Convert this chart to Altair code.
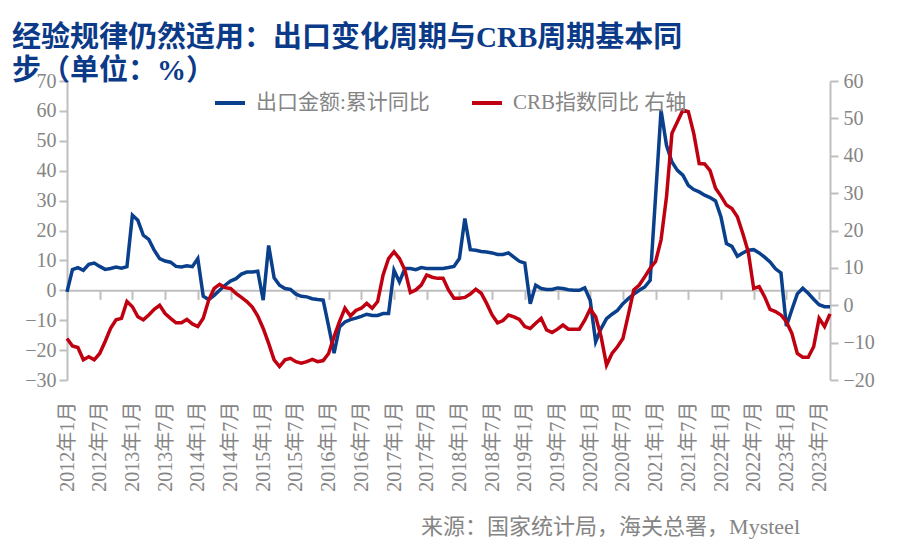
import altair as alt
import pandas as pd

# ---- data ----
months = [f"{2012 + i // 12}-{i % 12 + 1:02d}" for i in range(141)]  # 2012-01 .. 2023-09

export_yoy = [
    -0.5, 6.9, 7.6, 6.7, 8.7, 9.1, 8.0, 7.0, 7.3, 7.8, 7.4, 7.9,          # 2012
    25.1, 23.4, 18.4, 17.0, 13.4, 10.6, 9.8, 9.4, 8.0, 7.8, 8.2, 7.9,    # 2013
    10.6, -2.0, -3.1, -1.7, 0.0, 1.7, 3.1, 3.9, 5.4, 6.1, 6.1, 6.4,      # 2014
    -3.3, 15.0, 4.2, 1.7, 0.6, 0.3, -1.3, -2.0, -2.2, -2.8, -3.1, -3.3,  # 2015
    -12.0, -21.0, -12.3, -10.6, -9.8, -9.3, -8.7, -8.0, -8.4, -8.4, -7.8, -7.8,  # 2016
    6.7, 2.8, 7.3, 7.3, 6.9, 7.6, 7.3, 7.3, 7.3, 7.3, 7.6, 8.0,          # 2017
    10.6, 24.0, 13.6, 13.4, 13.0, 12.8, 12.5, 12.0, 12.0, 12.5, 11.1, 9.7,  # 2018
    9.1, -4.5, 1.7, 0.6, 0.3, 0.3, 0.8, 0.6, 0.2, 0.0, 0.0, 0.8,         # 2019
    -3.3, -17.2, -12.8, -9.5, -8.0, -6.7, -4.5, -2.8, -1.3, 0.0, 1.1, 3.3,  # 2020
    31.5, 60.2, 48.5, 42.9, 40.1, 38.5, 35.1, 33.7, 32.9, 31.8, 31.0, 29.9,  # 2021
    24.5, 15.6, 14.7, 11.4, 12.5, 13.4, 13.6, 12.5, 11.1, 9.5, 7.2, 5.8,  # 2022
    -12.0, -6.5, -1.2, 0.7, -1.0, -3.0, -4.8, -5.5, -5.5,                # 2023
]

crb_yoy = [
    -8.9, -10.9, -11.3, -14.6, -13.8, -14.6, -12.9, -9.7, -6.2, -3.9, -3.5, 1.0,   # 2012
    -0.4, -3.1, -3.9, -2.6, -1.1, 0.0, -2.2, -3.5, -4.7, -4.7, -3.8, -5.0,        # 2013
    -5.7, -3.5, 1.4, 4.5, 5.6, 4.7, 4.5, 3.2, 2.1, 1.0, -0.5, -2.9,               # 2014
    -6.2, -10.2, -14.6, -16.4, -14.6, -14.2, -15.1, -15.5, -15.1, -14.5, -15.1, -14.8,  # 2015
    -12.9, -8.4, -4.4, -0.8, -2.9, -1.4, -0.8, 0.5, -0.8, 1.0, 8.1, 12.5,         # 2016
    14.3, 12.5, 9.4, 3.4, 4.1, 5.4, 8.1, 7.5, 7.2, 7.2, 4.1, 1.9,                 # 2017
    1.9, 2.1, 3.0, 4.3, 3.2, 0.5, -2.6, -4.7, -4.1, -2.6, -3.1, -3.8,             # 2018
    -5.7, -6.2, -4.8, -3.5, -6.6, -7.3, -6.4, -5.3, -6.4, -6.4, -6.4, -4.0,       # 2019
    -1.0, -3.1, -8.4, -16.0, -12.9, -11.1, -8.9, -2.5, 4.1, 5.4, 7.6, 9.9,        # 2020
    11.7, 17.5, 29.0, 46.0, 49.1, 52.2, 51.8, 46.0, 37.9, 37.8, 36.0, 31.3,       # 2021
    29.2, 26.8, 25.9, 23.7, 19.2, 14.3, 4.5, 5.0, 2.3, -1.1, -1.7, -2.6,          # 2022
    -4.4, -7.5, -12.9, -13.9, -13.9, -11.1, -3.5, -5.7, -2.3,                     # 2023
]

series_names = ["出口金额:累计同比", "CRB指数同比"]
title_lines = ["经验规律仍然适用：出口变化周期与CRB周期基本同", "步（单位：%）"]
source_note = ["来源：国家统计局，海关总署，Mysteel"]
x_tick_idx = list(range(0, 141, 6))
left_ticks = [-30, -20, -10, 0, 10, 20, 30, 40, 50, 60, 70]
right_ticks = [-20, -10, 0, 10, 20, 30, 40, 50, 60]

rows = []
for i, m in enumerate(months):
    rows.append({"idx": i, "month": m, "series": series_names[0], "value": export_yoy[i]})
    rows.append({"idx": i, "month": m, "series": series_names[1], "value": crb_yoy[i]})
df = pd.DataFrame(rows)

# ---- style ----
BLUE = "#0a3f8c"
RED = "#c00010"
TITLE_BLUE = "#0b3a88"
GRAY = "#858585"
AXIS_GRAY = "#bfbfbf"
FONT = "Liberation Serif, Noto Sans CJK SC"

W, H = 763, 299

x_enc = alt.X(
    "idx:Q",
    scale=alt.Scale(domain=[0, 140], nice=False, zero=False),
    axis=alt.Axis(
        values=x_tick_idx,
        labelExpr="(floor(datum.value / 12) + 2012) + '年' + (datum.value % 12 + 1) + '月'",
        labelAngle=270,
        labelAlign="right",
        labelBaseline="middle",
        offset=-89.7,
        tickSize=9,
        labelPadding=102,
        domainColor=AXIS_GRAY,
        domainWidth=2,
        tickColor=AXIS_GRAY,
        tickWidth=2,
        labelFont=FONT,
        labelFontSize=20,
        labelColor=GRAY,
        labelOverlap=False,
        grid=False,
        title=None,
    ),
)

color_enc = alt.Color(
    "series:N",
    scale=alt.Scale(domain=series_names, range=[BLUE, RED]),
    legend=alt.Legend(
        orient="none",
        legendX=146,
        legendY=5,
        direction="horizontal",
        columns=2,
        title=None,
        symbolType="stroke",
        symbolSize=900,
        symbolStrokeWidth=4,
        labelFont=FONT,
        labelFontSize=21,
        labelColor=GRAY,
        labelOffset=9,
        labelLimit=400,
        columnPadding=34,
        padding=0,
        labelExpr="datum.label == 'CRB指数同比' ? 'CRB指数同比 右轴' : datum.label",
    ),
)

blue = (
    alt.Chart(df)
    .transform_filter(alt.datum.series == series_names[0])
    .mark_line(strokeWidth=3.5)
    .encode(
        x=x_enc,
        y=alt.Y(
            "value:Q",
            scale=alt.Scale(domain=[-30, 70], nice=False, zero=False),
            axis=alt.Axis(
                orient="left",
                values=left_ticks,
                tickSize=8,
                labelPadding=3,
                domainColor=AXIS_GRAY,
                domainWidth=2,
                tickColor=AXIS_GRAY,
                tickWidth=2,
                labelFont=FONT,
                labelFontSize=20,
                labelColor=GRAY,
                grid=False,
                title=None,
            ),
        ),
        color=color_enc,
        order="idx:Q",
    )
)

red = (
    alt.Chart(df)
    .transform_filter(alt.datum.series == series_names[1])
    .mark_line(strokeWidth=3.5)
    .encode(
        x=x_enc,
        y=alt.Y(
            "value:Q",
            scale=alt.Scale(domain=[-20, 60], nice=False, zero=False),
            axis=alt.Axis(
                orient="right",
                values=right_ticks,
                tickSize=8,
                labelPadding=5,
                domainColor=AXIS_GRAY,
                domainWidth=2,
                tickColor=AXIS_GRAY,
                tickWidth=2,
                labelFont=FONT,
                labelFontSize=20,
                labelColor=GRAY,
                grid=False,
                title=None,
            ),
        ),
        color=color_enc,
        order="idx:Q",
    )
)

source = (
    alt.Chart(pd.DataFrame({"t": source_note}))
    .mark_text(align="right", baseline="middle", font=FONT, fontSize=22, color=GRAY)
    .encode(x=alt.value(733), y=alt.value(446), text="t:N")
)

chart = (
    alt.layer(blue, red, source)
    .resolve_scale(y="independent")
    .properties(
        width=W,
        height=H,
        padding={"left": 59, "top": 73, "right": 81, "bottom": 165},
        autosize=alt.AutoSizeParams(type="none"),
        title=alt.TitleParams(
            text=title_lines,
            anchor="start",
            frame="group",
            dx=-55,
            dy=15,
            offset=0,
            font=FONT,
            fontSize=29,
            fontWeight="bold",
            color=TITLE_BLUE,
            lineHeight=33,
        ),
    )
    .configure_view(stroke=None)
)

chart.save("out.html", embed_options={"renderer": "svg", "actions": False})
